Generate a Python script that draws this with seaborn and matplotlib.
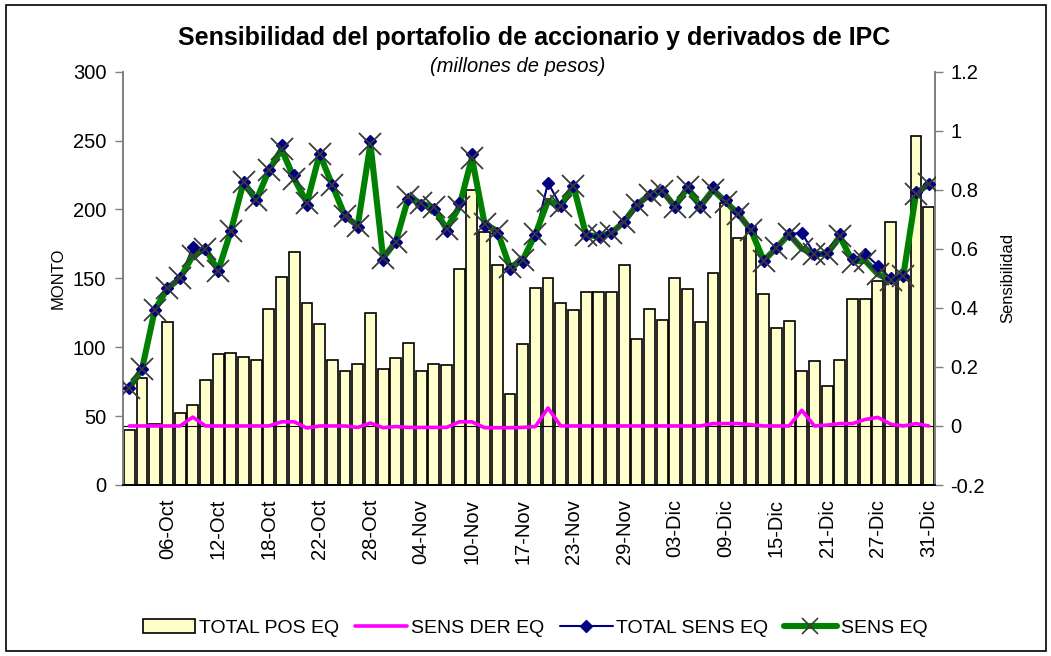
import numpy as np
import pandas as pd
import matplotlib
matplotlib.use("Agg")
import matplotlib.pyplot as plt
import seaborn as sns
from matplotlib.patches import Patch, Rectangle
from matplotlib.lines import Line2D
from matplotlib.ticker import FuncFormatter

# datos (64 dias)
total_pos_eq = [40, 78, 44, 118, 52, 58, 76, 95, 96, 93, 91, 128, 151, 169, 132, 117,
                91, 83, 88, 125, 84, 92, 103, 83, 88, 87, 157, 214, 184, 160, 66, 102,
                143, 150, 132, 127, 140, 140, 140, 160, 106, 128, 120, 150, 142, 118, 154, 205,
                179, 187, 139, 114, 119, 83, 90, 72, 91, 135, 135, 148, 191, 150, 253, 202]

sens_der_eq = [0, 0, 0, 0, 0, 0.03, 0, 0, 0, 0, 0, 0, 0.014, 0.014, -0.007, 0,
               0, 0, -0.005, 0.01, -0.006, -0.002, -0.005, -0.005, -0.005, -0.005, 0.014, 0.014, -0.006, -0.006, -0.006, -0.005,
               -0.002, 0.061, 0, 0, 0, 0, 0, 0, 0, 0, 0, 0, 0, 0, 0.008, 0.008,
               0.008, 0.004, 0, 0, 0, 0.053, 0, 0.003, 0.008, 0.008, 0.022, 0.029, 0.006, 0, 0.008, 0]

total_sens_eq = [0.129, 0.193, 0.392, 0.466, 0.50, 0.605, 0.60, 0.526, 0.66, 0.826, 0.764, 0.866, 0.951, 0.851, 0.749, 0.922,
                 0.815, 0.711, 0.673, 0.966, 0.563, 0.622, 0.769, 0.749, 0.735, 0.662, 0.756, 0.922, 0.679, 0.654, 0.531, 0.557,
                 0.647, 0.824, 0.745, 0.813, 0.647, 0.642, 0.654, 0.692, 0.749, 0.783, 0.797, 0.743, 0.808, 0.743, 0.808, 0.767,
                 0.726, 0.667, 0.560, 0.603, 0.650, 0.654, 0.582, 0.586, 0.650, 0.565, 0.582, 0.543, 0.500, 0.509, 0.794, 0.820]

sens_eq = [0.129, 0.193, 0.392, 0.466, 0.50, 0.577, 0.60, 0.526, 0.66, 0.826, 0.764, 0.866, 0.937, 0.837, 0.756, 0.922,
           0.815, 0.711, 0.678, 0.956, 0.569, 0.624, 0.774, 0.754, 0.740, 0.667, 0.742, 0.908, 0.685, 0.660, 0.537, 0.562,
           0.649, 0.763, 0.745, 0.813, 0.647, 0.642, 0.654, 0.692, 0.749, 0.783, 0.797, 0.743, 0.808, 0.743, 0.800, 0.759,
           0.718, 0.663, 0.560, 0.603, 0.650, 0.601, 0.582, 0.583, 0.642, 0.557, 0.560, 0.514, 0.494, 0.509, 0.786, 0.820]

tick_labels = ["06-Oct", "12-Oct", "18-Oct", "22-Oct", "28-Oct", "04-Nov", "10-Nov", "17-Nov",
               "23-Nov", "29-Nov", "03-Dic", "09-Dic", "15-Dic", "21-Dic", "27-Dic", "31-Dic"]

dias = np.arange(len(total_pos_eq))
df = pd.DataFrame({"dia": dias, "pos": total_pos_eq, "der": sens_der_eq,
                   "total": total_sens_eq, "sens": sens_eq})

sns.set_theme(style="white")
plt.rcParams["font.family"] = ["Liberation Sans", "DejaVu Sans"]
plt.rcParams["text.color"] = "black"
plt.rcParams["axes.labelcolor"] = "black"
plt.rcParams["xtick.color"] = "black"
plt.rcParams["ytick.color"] = "black"

fig = plt.figure(figsize=(10.51, 6.56), dpi=100)
ax = fig.add_axes([123 / 1051, 1 - 485 / 656, (935 - 123) / 1051, (485 - 71.7) / 656])

# barras (eje izquierdo)
sns.barplot(data=df, x="dia", y="pos", ax=ax, color="#FFFFCC", saturation=1,
            edgecolor="black", linewidth=1.2, width=0.86, zorder=2)
ax.set_ylim(0, 300)
ax.set_yticks(range(0, 301, 50))
ax.set_xlim(-0.5, len(dias) - 0.5)
ax.set_xticks(dias[3::4])
ax.set_xticklabels(tick_labels, rotation=90, fontsize=14.5)
ax.set_xlabel("")
ax.set_ylabel("MONTO", fontsize=12, labelpad=5)
ax.tick_params(axis="x", length=0, pad=10)
ax.tick_params(axis="y", length=6, width=1, color="#808080", labelsize=14.5, pad=6, left=True)

# lineas (eje derecho)
ax2 = ax.twinx()
ax2.axhline(0, color="black", linewidth=0.8, zorder=1)
sns.lineplot(data=df, x="dia", y="der", ax=ax2, color="#FF00FF", linewidth=2.6, zorder=2)
sns.lineplot(data=df, x="dia", y="total", ax=ax2, color="#000080", linewidth=1.5, zorder=3)
sns.lineplot(data=df, x="dia", y="sens", ax=ax2, color="#008000", linewidth=4.4, zorder=4)
ax2.plot(df["dia"], df["total"], linestyle="none", marker="D", markersize=6.5,
         color="#000080", zorder=5)
ax2.plot(df["dia"], df["sens"], linestyle="none", marker="x", markersize=16,
         markeredgewidth=1.3, color="#3a3a3a", zorder=6)
ax2.set_ylim(-0.2, 1.2)
ax2.set_yticks(np.arange(-0.2, 1.21, 0.2))
ax2.yaxis.set_major_formatter(FuncFormatter(lambda v, p: f"{round(v, 1):g}"))
ax2.set_ylabel("Sensibilidad", fontsize=12, labelpad=11)
ax2.tick_params(axis="y", length=6, width=1, color="#808080", labelsize=14.5, pad=5, right=True)
ax2.set_xlim(-0.5, len(dias) - 0.5)
ax2.set_xlabel("")

for a in (ax, ax2):
    a.spines["top"].set_visible(False)
    a.spines["left"].set_color("#808080")
    a.spines["right"].set_color("#808080")
    a.spines["bottom"].set_color("black")
    a.grid(False)

# titulos
fig.text(534 / 1051, 1 - 38 / 656, "Sensibilidad del portafolio de accionario y derivados de IPC",
         ha="center", va="center", fontsize=18, fontweight="bold")
fig.text(518 / 1051, 1 - 67 / 656, "(millones de pesos)", ha="center", va="center",
         fontsize=14.5, fontstyle="italic")

# leyenda
handles = [Patch(facecolor="#FFFFCC", edgecolor="black", linewidth=1.2, label="TOTAL POS EQ"),
           Line2D([], [], color="#FF00FF", linewidth=2.6, label="SENS DER EQ"),
           Line2D([], [], color="#000080", linewidth=1.5, marker="D", markersize=6.5, label="TOTAL SENS EQ"),
           Line2D([], [], color="#008000", linewidth=4.4, marker="x", markersize=12,
                  markeredgecolor="#3a3a3a", markeredgewidth=1.2, label="SENS EQ")]
fig.legend(handles=handles, loc="center", bbox_to_anchor=(535 / 1051, 1 - 628 / 656), ncol=4,
           frameon=False, fontsize=14, handlelength=2.7, handletextpad=0.2, columnspacing=0.8)

# borde exterior
fig.patches.append(Rectangle((6 / 1051, 5 / 656), 1040 / 1051, 646 / 656, transform=fig.transFigure,
                             fill=False, edgecolor="black", linewidth=1.2))

fig.savefig("out.png", dpi=100)
